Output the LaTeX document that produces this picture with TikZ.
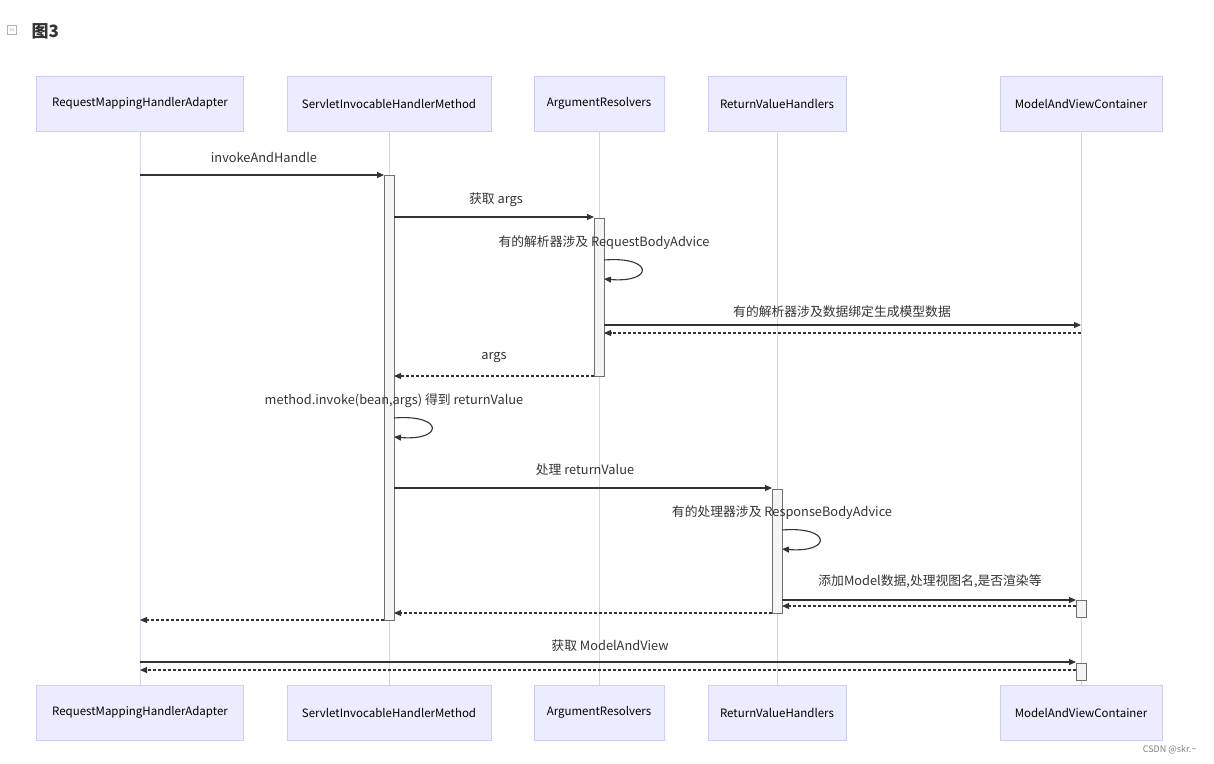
\documentclass[tikz,border=0pt]{standalone}
\usepackage{fontspec}
\setmainfont{Noto Sans CJK SC}
\usetikzlibrary{arrows.meta}
\definecolor{actfill}{HTML}{ECECFF}
\definecolor{actline}{HTML}{CCCCFF}
\definecolor{life}{HTML}{D8D0F0}
\definecolor{ink}{HTML}{333333}
\begin{document}
\begin{tikzpicture}[x=1pt,y=-1pt,
 actor/.style={draw=actline,fill=actfill,minimum height=55pt,inner sep=0pt,font=\fontsize{11.5}{13}\selectfont,text=black},
 lifeline/.style={draw=life,line width=1pt},
 act/.style={draw=ink!70,fill=black!4,line width=0.6pt},
 msg/.style={draw=ink,line width=1.1pt,-{Triangle[length=7pt,width=6pt]}},
 ret/.style={msg,dash pattern=on 3pt off 2pt},
 lbl/.style={font=\fontsize{12.8}{15}\selectfont,text=ink,inner sep=0pt}]
\useasboundingbox (0,0) rectangle (1214,763);
\node[font=\bfseries\fontsize{17}{20}\selectfont,anchor=west,text=ink] (title) at (28,31) {图3};
\node[draw=black!30,minimum size=9pt,inner sep=0pt,font=\fontsize{4}{5}\selectfont,text=black!40] (icon) at (12,30) {h1};
\foreach \n/\x/\w/\t in {a/140/207/RequestMappingHandlerAdapter,b/389/204/ServletInvocableHandlerMethod,c/599/130/ArgumentResolvers,d/777/138/ReturnValueHandlers,e/1081/162/ModelAndViewContainer}{
 \draw[lifeline] (\x,131) -- (\x,685);
 \node[actor,minimum width=\w pt] (\n top) at (\x,103.5) {\t};
 \node[actor,minimum width=\w pt] (\n bot) at (\x,712.5) {\t};
}
\draw[act] (384,175) rectangle (394,620);
\draw[act] (594,218) rectangle (604,376);
\draw[act] (772,489) rectangle (782,613);
\draw[act] (1076,600) rectangle (1086,617);
\draw[act] (1076,663) rectangle (1086,680);
% coordinates
\coordinate (a1) at (140,175); \coordinate (b1) at (384,175);
\coordinate (b2) at (394,217); \coordinate (c2) at (594,217);
\coordinate (c3) at (604,260); \coordinate (c3e) at (604,279);
\coordinate (c4) at (604,325); \coordinate (e4) at (1081,325);
\coordinate (e4r) at (1081,333); \coordinate (c4r) at (604,333);
\coordinate (c5) at (594,376); \coordinate (b5) at (394,376);
\coordinate (b6) at (394,418); \coordinate (b6e) at (394,437);
\coordinate (b7) at (394,488); \coordinate (d7) at (772,488);
\coordinate (d8) at (782,530); \coordinate (d8e) at (782,549);
\coordinate (d9) at (782,600); \coordinate (e9) at (1076,600);
\coordinate (e9r) at (1076,606); \coordinate (d9r) at (782,606);
\coordinate (d10) at (772,613); \coordinate (b10) at (394,613);
\coordinate (b11) at (384,620); \coordinate (a11) at (140,620);
\coordinate (a12) at (140,662); \coordinate (e12) at (1076,662);
\coordinate (e12r) at (1076,670); \coordinate (a12r) at (140,670);
\draw[msg] (a1) -- (b1);
\node[lbl] (l1) at (264,157) {invokeAndHandle};
\draw[msg] (b2) -- (c2);
\node[lbl] (l2) at (496,200) {获取 args};
\draw[msg] (c3) .. controls (654,256) and (654,283) .. (c3e);
\node[lbl] (l3) at (604,243) {有的解析器涉及 RequestBodyAdvice};
\draw[msg] (c4) -- (e4);
\node[lbl] (l4) at (842,312) {有的解析器涉及数据绑定生成模型数据};
\draw[ret] (e4r) -- (c4r);
\draw[ret] (c5) -- (b5);
\node[lbl] (l5) at (494,358) {args};
\draw[msg] (b6) .. controls (444,414) and (444,441) .. (b6e);
\node[lbl] (l6) at (394,401) {method.invoke(bean,args) 得到 returnValue};
\draw[msg] (b7) -- (d7);
\node[lbl] (l7) at (585,470) {处理 returnValue};
\draw[msg] (d8) .. controls (832,526) and (832,553) .. (d8e);
\node[lbl] (l8) at (782,513) {有的处理器涉及 ResponseBodyAdvice};
\draw[msg] (d9) -- (e9);
\node[lbl] (l9) at (930,581) {添加Model数据,处理视图名,是否渲染等};
\draw[ret] (e9r) -- (d9r);
\draw[ret] (d10) -- (b10);
\draw[ret] (b11) -- (a11);
\draw[msg] (a12) -- (e12);
\node[lbl] (l12) at (610,646) {获取 ModelAndView};
\draw[ret] (e12r) -- (a12r);
\node[font=\fontsize{9}{11}\selectfont,text=black!50,anchor=east] (wm) at (1200,750) {CSDN @skr.\textasciitilde};
\end{tikzpicture}
\end{document}
